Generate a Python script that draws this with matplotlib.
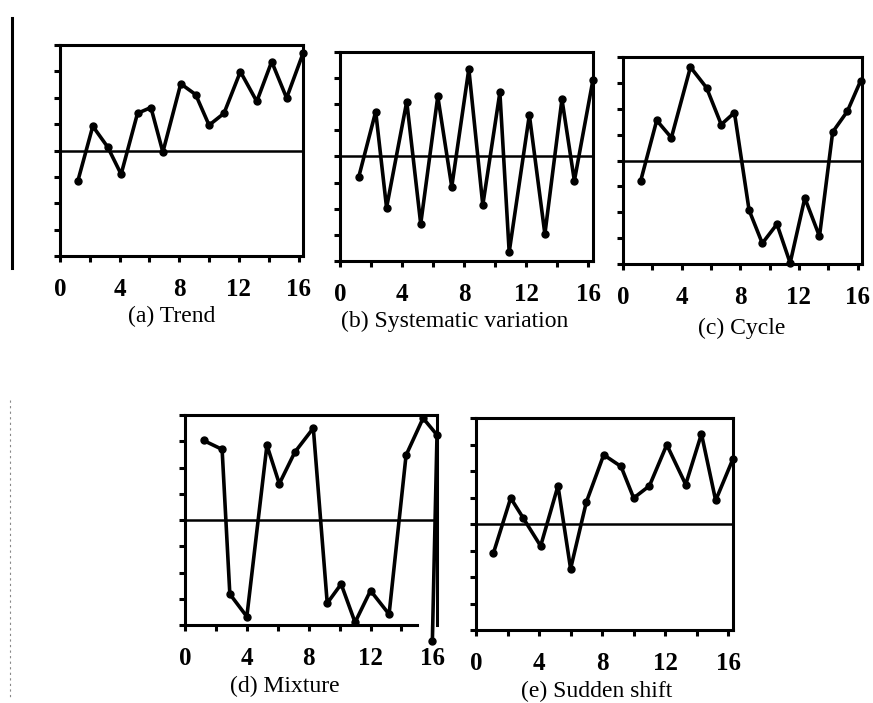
import matplotlib
matplotlib.use("Agg")
from matplotlib import pyplot as plt
from matplotlib.lines import Line2D
import numpy as np

# sample index positions
x_trend = [1.2, 2.2, 3.2, 4.1, 5.2, 6.1, 6.9, 8.1, 9.1, 10.0, 11.0, 12.1, 13.2, 14.2, 15.2, 16.3]
y_trend = [-1.15, 0.92, 0.13, -0.9, 1.41, 1.63, -0.06, 2.53, 2.12, 0.96, 1.41, 2.99, 1.86, 3.37, 1.99, 3.68]

x_syst = [1.2, 2.3, 3.0, 4.3, 5.2, 6.3, 7.2, 8.3, 9.2, 10.3, 10.9, 12.2, 13.2, 14.3, 15.1, 16.3]
y_syst = [-0.8, 1.72, -1.96, 2.1, -2.58, 2.3, -1.16, 3.35, -1.86, 2.45, -3.66, 1.59, -2.97, 2.19, -0.93, 2.94]

x_cycle = [1.2, 2.3, 3.3, 4.6, 5.7, 6.7, 7.6, 8.6, 9.5, 10.5, 11.4, 12.4, 13.4, 14.3, 15.3, 16.2]
y_cycle = [-0.8, 1.55, 0.88, 3.61, 2.81, 1.39, 1.85, -1.92, -3.2, -2.46, -3.96, -1.45, -2.93, 1.1, 1.9, 3.07]

x_mix = [1.2, 2.4, 2.9, 4.0, 5.3, 6.1, 7.1, 8.3, 9.2, 10.1, 11.0, 12.0, 13.2, 14.3, 15.4, 16.3, 16.0]
y_mix = [3.03, 2.69, -2.82, -3.68, 2.85, 1.38, 2.58, 3.5, -3.17, -2.44, -3.9, -2.69, -3.59, 2.47, 3.88, 3.24, -4.62]

x_shift = [1.1, 2.2, 3.0, 4.1, 5.2, 6.0, 7.0, 8.1, 9.2, 10.0, 11.0, 12.1, 13.3, 14.3, 15.2, 16.3]
y_shift = [-1.11, 0.98, 0.22, -0.83, 1.44, -1.69, 0.83, 2.61, 2.17, 0.98, 1.44, 2.99, 1.49, 3.4, 0.89, 2.46]

captions = ["(a) Trend", "(b) Systematic variation", "(c) Cycle", "(d) Mixture", "(e) Sudden shift"]

W, H = 873, 703
fig = plt.figure(figsize=(W / 100, H / 100), dpi=100)
fig.patch.set_facecolor("white")

# axes boxes in pixels: left, right, top, bottom
boxes = [
    (60, 303, 45, 256),
    (340, 593, 52, 261),
    (623, 862, 57, 264),
    (185, 437, 415, 625),
    (476, 733, 418, 630),
]
series = [(x_trend, y_trend), (x_syst, y_syst), (x_cycle, y_cycle),
          (x_mix, y_mix), (x_shift, y_shift)]
cap_pos = [(172, 316), (455, 321), (742, 328), (285, 686), (597, 691)]

serif = ["Liberation Serif", "DejaVu Serif"]

for i, ((l, r, t, b), (xs, ys)) in enumerate(zip(boxes, series)):
    ax = fig.add_axes([l / W, 1 - b / H, (r - l) / W, (b - t) / H])
    ax.plot(xs, ys, color="black", lw=2.6, marker="o", ms=5, clip_on=False, zorder=3)
    ax.axhline(0, color="black", lw=1.8)
    ax.set_xlim(0, 16.3)
    ax.set_ylim(-4, 4)
    ax.set_xticks([0, 4, 8, 12, 16])
    ax.set_xticks([2, 6, 10, 14], minor=True)
    ax.set_yticks(range(-4, 5))
    ax.set_yticklabels([])
    ax.set_xticklabels(["0", "4", "8", "12", "16"], fontfamily=serif,
                       fontweight="bold", fontsize=18)
    ax.tick_params(axis="both", which="both", direction="out", length=4,
                   width=2.2, color="black")
    ax.tick_params(axis="x", which="major", pad=12)
    for s in ax.spines.values():
        s.set_linewidth(2.2)
    if i == 3:
        # bottom spine stops short in the scan
        ax.spines["bottom"].set_bounds(0, 15.0)
    fig.text(cap_pos[i][0] / W, 1 - cap_pos[i][1] / H, captions[i],
             ha="center", va="center", fontsize=17, fontfamily=serif)

# scan edge line on the left
fig.add_artist(Line2D([12 / W, 12 / W], [1 - 18 / H, 1 - 268 / H],
                      color="black", lw=2.2))
fig.add_artist(Line2D([10 / W, 10 / W], [1 - 400 / H, 1 - 700 / H],
                      color="#888888", lw=0.8, ls=(0, (2, 3))))

fig.savefig("out.png", dpi=100, facecolor="white")
